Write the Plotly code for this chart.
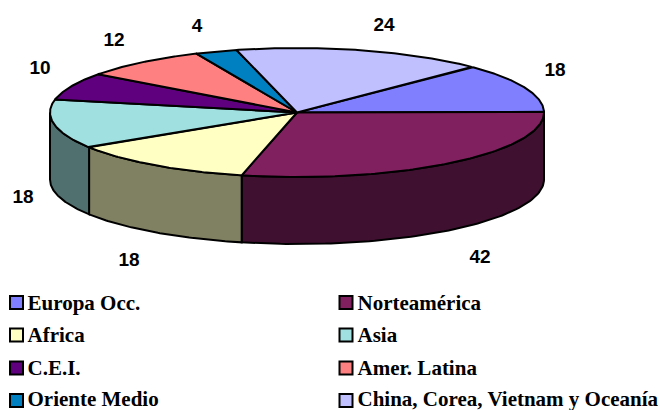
import numpy as np
import plotly.graph_objects as go

CATEGORIES = ["Europa Occ.", "Norteamérica", "Africa", "Asia", "C.E.I.",
              "Amer. Latina", "Oriente Medio", "China, Corea, Vietnam y Oceanía"]
VALUES = [18, 42, 18, 18, 10, 12, 4, 24]
TOP_COLORS = ["#8080FF", "#80205F", "#FFFFC4", "#A0E0E0", "#5F007F", "#FF8080", "#0080C0", "#C0C0FF"]
SIDE_COLORS = ["#404080", "#401030", "#808062", "#507070", "#300040", "#804040", "#004060", "#606080"]

# layout (pixels)
CX, CY, RX, RY, DEPTH = 297, 112.5, 247, 64.5, 67
START_DEG = 45
LABEL_POS = [(555, 71), (480, 258), (129, 261), (23, 198), (40, 69), (114, 41), (197, 27), (384, 26)]
LEGEND_POS = [(16.5, 302.5), (346, 302.5), (16.5, 335), (346, 335),
              (16.5, 368), (346, 368), (16.5, 400.5), (346, 400.5)]
LEGEND_TEXT_X = [27.5, 357.5, 27.5, 357.5, 27.5, 357.5, 27.5, 357.5]
LEGEND_TEXT_Y = [304.5, 304.5, 337, 337, 370, 370, 400.5, 400.5]
LINE = dict(color="black", width=2)


def ex(a):
    return CX + RX * np.cos(np.radians(a))


def ey(a):
    return CY - RY * np.sin(np.radians(a))


fig = go.Figure()
angles = START_DEG - np.concatenate([[0], np.cumsum(VALUES)]) * 360 / sum(VALUES)

# side walls: only the part of each slice on the front half (angle in [-180, 0])
for i in range(len(VALUES)):
    hi_a = min(angles[i], 0)
    lo_a = max(angles[i + 1], -180)
    if hi_a <= lo_a:
        continue
    t = np.linspace(hi_a, lo_a, 80)
    xs = np.concatenate([ex(t), ex(t[::-1]), ex(t[:1])])
    ys = np.concatenate([ey(t), ey(t[::-1]) + DEPTH, ey(t[:1])])
    fig.add_trace(go.Scatter(x=xs, y=ys, mode="lines", fill="toself",
                             fillcolor=SIDE_COLORS[i], line=LINE,
                             hoverinfo="skip", showlegend=False))

# top faces
for i in range(len(VALUES)):
    t = np.linspace(angles[i], angles[i + 1], 120)
    xs = np.concatenate([[CX], ex(t), [CX]])
    ys = np.concatenate([[CY], ey(t), [CY]])
    fig.add_trace(go.Scatter(x=xs, y=ys, mode="lines", fill="toself",
                             fillcolor=TOP_COLORS[i], line=LINE,
                             name=CATEGORIES[i], showlegend=False))

# value labels
fig.add_trace(go.Scatter(x=[p[0] for p in LABEL_POS], y=[p[1] for p in LABEL_POS],
                         mode="text", text=["<b>%d</b>" % v for v in VALUES], textposition="middle center",
                         textfont=dict(family="Liberation Sans", size=19, color="black"),
                         hoverinfo="skip", showlegend=False))

# legend swatches and labels
fig.add_trace(go.Scatter(x=[p[0] for p in LEGEND_POS], y=[p[1] for p in LEGEND_POS],
                         mode="markers",
                         marker=dict(symbol="square", size=13, color=TOP_COLORS,
                                     line=dict(color="black", width=2)),
                         hoverinfo="skip", showlegend=False))
fig.add_trace(go.Scatter(x=LEGEND_TEXT_X, y=LEGEND_TEXT_Y,
                         mode="text", text=["<b>%s</b>" % c for c in CATEGORIES],
                         textposition="middle right",
                         textfont=dict(family="Liberation Serif", size=21, color="black"),
                         hoverinfo="skip", showlegend=False))

axis = dict(visible=False, showgrid=False, zeroline=False, fixedrange=True)
fig.update_layout(width=660, height=410, margin=dict(l=0, r=0, t=0, b=0),
                  paper_bgcolor="white", plot_bgcolor="white", showlegend=False,
                  xaxis=dict(range=[0, 660], **axis),
                  yaxis=dict(range=[410, 0], **axis))
fig.update_traces(cliponaxis=False)
fig.write_html("out.html", config=dict(displayModeBar=False),
               post_script="document.body.style.margin='0';document.body.style.overflow='hidden';")
